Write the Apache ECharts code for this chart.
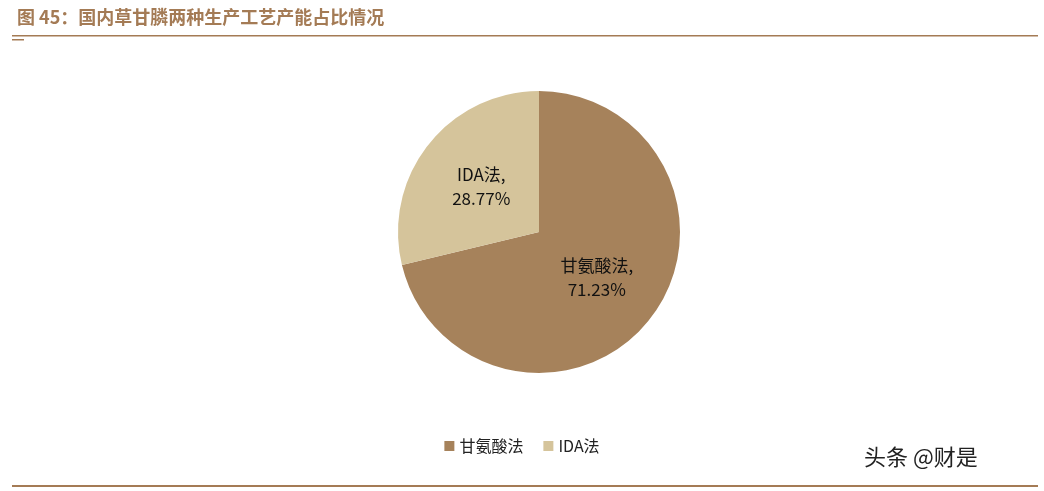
<!DOCTYPE html>
<html><head><meta charset="utf-8">
<script src="https://cdn.jsdelivr.net/npm/echarts@6/dist/echarts.min.js"></script>
<style>body{margin:0;background:#fff}#c{width:1044px;height:491px}</style>
</head><body><div id="c"></div>
<script>
const categories = ['甘氨酸法', 'IDA法'];
const values = [71.23, 28.77];
const colors = ['#A6825B', '#D5C49B'];
const chart = echarts.init(document.getElementById('c'));
chart.setOption({
  animation: false,
  title: {text: '图 45：国内草甘膦两种生产工艺产能占比情况', left: 12, top: 3,
    textStyle: {color: '#A47B55', fontSize: 18, fontWeight: 'bold', fontFamily: 'Noto Sans CJK SC'}},
  graphic: [
    {type: 'rect', shape: {x: 12, y: 35, width: 1026, height: 1.5}, style: {fill: '#A47B55'}},
    {type: 'rect', shape: {x: 12, y: 39, width: 12, height: 1.5}, style: {fill: '#A47B55'}},
    {type: 'rect', shape: {x: 12, y: 485, width: 1026, height: 2}, style: {fill: '#A47B55'}},
    {type: 'text', left: 864, top: 446, style: {text: '头条 @财是', fill: '#222', fontSize: 22, fontFamily: 'Noto Sans CJK SC'}}
  ],
  legend: {bottom: 32, left: 'center', itemWidth: 10, itemHeight: 10, itemGap: 20, icon: 'rect',
    textStyle: {fontSize: 16, color: '#222', fontFamily: 'Noto Sans CJK SC'}},
  series: [{
    type: 'pie', center: [539, 232], radius: 141, startAngle: 90, clockwise: true,
    label: {position: 'inside', formatter: p => p.name + ',\n' + p.value.toFixed(2) + '%',
      color: '#111', fontSize: 17, lineHeight: 24, fontFamily: 'Noto Sans CJK SC'},
    labelLine: {show: false},
    data: categories.map((n, i) => ({name: n, value: values[i], itemStyle: {color: colors[i]}}))
  }]
});
</script></body></html>
